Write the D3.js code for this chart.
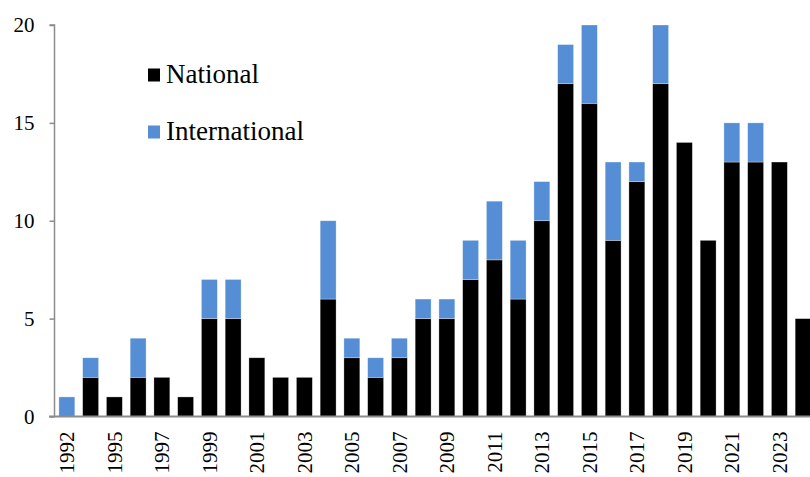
<!DOCTYPE html>
<html><head><meta charset="utf-8">
<script src="https://cdn.jsdelivr.net/npm/d3@7"></script>
<style>body{margin:0;background:#fff}svg{display:block}
svg text{font-family:'Liberation Serif','Times New Roman',serif}</style>
</head><body>
<script>
const years = ["1992","1994","1995","1996","1997","1998","1999","2000","2001","2002","2003","2004","2005","2006","2007","2008","2009","2010","2011","2012","2013","2014","2015","2016","2017","2018","2019","2020","2021","2022","2023","2024"];
const national =      [0,2,1,2,2,1,5,5,3,2,2,6,3,2,3,5,5,7,8,6,10,17,16,9,12,17,14,9,13,13,13,5];
const international = [1,1,0,2,0,0,2,2,0,0,0,4,1,1,1,1,1,2,3,3,2,2,4,4,1,3,0,0,2,2,0,0];
const yTicks = [0,5,10,15,20];
const seriesNames = ["National","International"];
const colors = ["#000000","#558ed5"];

const W = 810, H = 477;
const svg = d3.select("body").append("svg").attr("width", W).attr("height", H);
const font = "'Liberation Serif','Times New Roman',serif";

const x = d3.scaleBand().domain(years).range([55, 815]).paddingInner(0.33).paddingOuter(0.165);
const y = d3.scaleLinear().domain([0, 20]).range([416.5, 25]);

const rows = years.map((yr, i) => ({year: yr, National: national[i], International: international[i]}));
const stack = d3.stack().keys(seriesNames)(rows);

svg.append("g").selectAll("g").data(stack).join("g")
  .attr("fill", (d, i) => colors[i])
  .selectAll("rect").data(d => d.filter(v => v[1] - v[0] > 0)).join("rect")
  .attr("x", d => x(d.data.year))
  .attr("width", x.bandwidth())
  .attr("y", d => y(d[1]))
  .attr("height", d => y(d[0]) - y(d[1]))
  .attr("stroke", "#ffffff").attr("stroke-opacity", 0.5).attr("stroke-width", 0.6);

// Y axis
const yAxis = svg.append("g").attr("transform", "translate(54.5,0)")
  .call(d3.axisLeft(y).tickValues(yTicks).tickSize(5).tickPadding(15));
yAxis.attr("font-family", font);
yAxis.select(".domain").attr("stroke", "#8c8c8c").attr("stroke-width", 1.5).attr("d", `M-5,${y(20)}H0V${y(0)}`);
yAxis.selectAll(".tick line").attr("stroke", "#8c8c8c").attr("stroke-width", 1.5);
yAxis.selectAll(".tick text").style("font-family", font).attr("font-size", 21).attr("fill", "#000");

// X axis
const xAxis = svg.append("g").attr("transform", `translate(0,${y(0)})`)
  .call(d3.axisBottom(x).tickSize(0).tickFormat((d, i) => i % 2 === 0 ? d : ""));
xAxis.attr("font-family", font);
xAxis.select(".domain").attr("stroke", "#8c8c8c").attr("stroke-width", 2).attr("d", `M49,0H815`);
xAxis.selectAll(".tick text")
  .style("font-family", font).attr("font-size", 21).attr("fill", "#000")
  .attr("transform", "rotate(-90)")
  .attr("text-anchor", "end")
  .attr("x", -15).attr("y", 0).attr("dy", "0.35em");

// Legend
const leg = svg.append("g");
seriesNames.forEach((name, i) => {
  const yy = 75 + i * 57;
  leg.append("rect").attr("x", 148).attr("y", yy - 6.5).attr("width", 12).attr("height", 13).attr("fill", colors[i]);
  leg.append("text").attr("x", 166).attr("y", yy + 7.5).style("font-family", font).attr("font-size", 27).attr("fill", "#000").text(name);
});
</script>
</body></html>
